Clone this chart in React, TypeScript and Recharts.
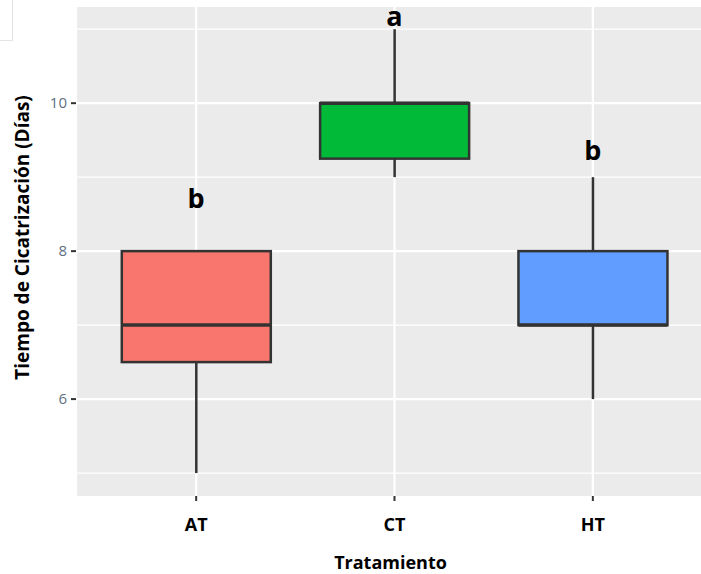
import React from "react";
import {
  ComposedChart,
  Bar,
  Scatter,
  XAxis,
  YAxis,
  CartesianGrid,
} from "recharts";

// treatments and their box statistics (días)
const groups = ["AT", "CT", "HT"];
const mins = [5, 9, 6];
const q1s = [6.5, 9.25, 7];
const medians = [7, 10, 7];
const q3s = [8, 10, 8];
const maxs = [8, 11, 9];
const fills = ["#F8766D", "#00BA38", "#619CFF"];

// significance letters above each box
const letters = ["b", "a", "b"];
const letterY = [8.72, 11.19, 9.37];

const yTicks = [6, 8, 10];
const minorY = [5, 7, 9, 11];

const data = groups.map((g, i) => ({
  group: g,
  box: [q1s[i], q3s[i]],
  min: mins[i],
  q1: q1s[i],
  median: medians[i],
  q3: q3s[i],
  max: maxs[i],
  fill: fills[i],
  letter: letters[i],
  letterY: letterY[i],
}));

const FONT = "'Open Sans', sans-serif";

// draws whiskers, box and median using the bar's own pixel scale
const BoxShape = (props: any) => {
  const { x, y, width, height, payload } = props;
  const ppu = height / (payload.q3 - payload.q1);
  const cx = x + width / 2;
  const yTop = y - (payload.max - payload.q3) * ppu;
  const yBot = y + height + (payload.q1 - payload.min) * ppu;
  const yMed = y + (payload.q3 - payload.median) * ppu;
  return (
    <g>
      <line x1={cx} x2={cx} y1={yTop} y2={y} stroke="#333333" strokeWidth={2.5} />
      <line x1={cx} x2={cx} y1={y + height} y2={yBot} stroke="#333333" strokeWidth={2.5} />
      <rect x={x} y={y} width={width} height={height} fill={payload.fill} stroke="#333333" strokeWidth={2.5} />
      <line x1={x} x2={x + width} y1={yMed} y2={yMed} stroke="#333333" strokeWidth={3.5} />
    </g>
  );
};

const LetterShape = (props: any) => {
  const { cx, cy, payload } = props;
  return (
    <text x={cx} y={cy} textAnchor="middle" dominantBaseline="central" fontFamily={FONT} fontWeight={700} fontSize={27} fill="#000">
      {payload.letter}
    </text>
  );
};

const YTitle = (props: any) => {
  const { viewBox } = props;
  const x = viewBox.x + 22;
  const y = viewBox.y + viewBox.height / 2 - 14;
  return (
    <text
      x={x}
      y={y}
      transform={`rotate(-90, ${x}, ${y})`}
      textAnchor="middle"
      dominantBaseline="central"
      fontFamily={FONT}
      fontWeight={700}
      fontSize={19}
      fill="#000"
    >
      Tiempo de Cicatrización (Días)
    </text>
  );
};

export default function App() {
  return (
    <div style={{ position: "absolute", left: 0, top: 0, width: 701, height: 574, background: "#fff", overflow: "hidden" }}>
      <div style={{ position: "absolute", left: 0, top: 0, width: 12, height: 40, borderRight: "1px solid #e4e4e4", borderBottom: "1px solid #e4e4e4" }} />
      <ComposedChart
        width={705}
        height={574}
        data={data}
        margin={{ top: 7, right: 0, bottom: 0, left: 0 }}
        barCategoryGap="12.5%"
      >
        <CartesianGrid fill="#EBEBEB" stroke="#ffffff" strokeWidth={1.2} vertical={false} horizontalValues={minorY} />
        <CartesianGrid stroke="#ffffff" strokeWidth={2.2} horizontalValues={yTicks} />
        <XAxis
          dataKey="group"
          height={78}
          padding={{ left: 21, right: 13 }}
          axisLine={false}
          tickLine={{ stroke: "#333333", strokeWidth: 2 }}
          tickSize={5}
          tickMargin={17}
          tick={{ fill: "#000", fontSize: 18, fontWeight: 700, fontFamily: FONT }}
          label={{
            value: "Tratamiento",
            position: "insideBottom",
            offset: 5,
            fill: "#000",
            fontSize: 18,
            fontWeight: 700,
            fontFamily: FONT,
          }}
        />
        <YAxis
          type="number"
          domain={[4.69, 11.3]}
          ticks={yTicks}
          width={76}
          axisLine={false}
          tickLine={{ stroke: "#333333", strokeWidth: 2 }}
          tickSize={5}
          tickMargin={4}
          tick={{ fill: "#5f6f82", fontSize: 15, fontFamily: FONT }}
          label={<YTitle />}
        />
        <Bar dataKey="box" shape={BoxShape} isAnimationActive={false} />
        <Scatter dataKey="letterY" shape={LetterShape} isAnimationActive={false} />
      </ComposedChart>
    </div>
  );
}
